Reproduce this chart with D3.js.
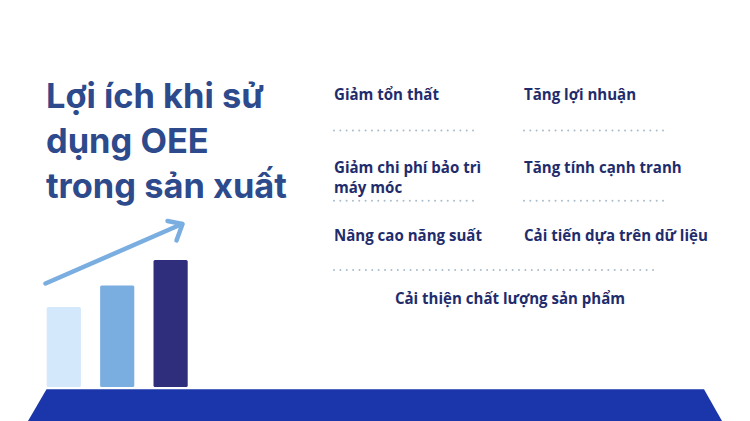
<!DOCTYPE html>
<html><head><meta charset="utf-8">
<script src="https://cdn.jsdelivr.net/npm/d3@7"></script>
<style>html,body{margin:0;padding:0;background:#fff;}svg{display:block;}</style>
</head><body>
<svg id="c" width="750" height="421"></svg>
<script>
// ---- data ----
const titleLines = ["Lợi ích khi sử", "dụng OEE", "trong sản xuất"];
const barCategories = ["Giai đoạn 1", "Giai đoạn 2", "Giai đoạn 3"];
const barValues = [63, 80, 100];
const benefitsCol1 = ["Giảm tổn thất", "Giảm chi phí bảo trì|máy móc", "Nâng cao năng suất"];
const benefitsCol2 = ["Tăng lợi nhuận", "Tăng tính cạnh tranh", "Cải tiến dựa trên dữ liệu"];
const benefitLast = ["Cải thiện chất lượng sản phẩm"];

const svg = d3.select("#c");
const W = 750, H = 421;
svg.append("rect").attr("width", W).attr("height", H).attr("fill", "#ffffff");

// ---- platform ----
svg.append("path")
  .attr("d", d3.line()([[46.5, 389.3], [704, 389.3], [722, 421], [28, 421]]) + "Z")
  .attr("fill", "#1A36AA");

// ---- bars ----
const x = d3.scaleBand().domain(barCategories).range([46.7, 187.7]).paddingInner(0.36).paddingOuter(0);
const y = d3.scaleLinear().domain([0, 100]).range([387, 260]);
const barColors = ["#D3E8FA", "#7BAEE0", "#2E2E7C"];
svg.append("g").selectAll("rect").data(barValues).join("rect")
  .attr("x", (d, i) => x(barCategories[i]))
  .attr("width", x.bandwidth())
  .attr("y", d => y(d))
  .attr("height", d => y(0) - y(d))
  .attr("rx", 1.5)
  .attr("fill", (d, i) => barColors[i]);

// ---- trend arrow ----
const arrowColor = "#7AAEE0";
const ag = svg.append("g").attr("fill", "none").attr("stroke", arrowColor)
  .attr("stroke-width", 4.5).attr("stroke-linecap", "round").attr("stroke-linejoin", "round");
ag.append("line").attr("x1", 45.5).attr("y1", 283.5).attr("x2", 182).attr("y2", 224);
ag.append("path").attr("d", d3.line()([[167.5, 221], [182.5, 224], [176.5, 240.5]]));

// ---- title ----
const titleColor = "#2C4A8C";
const tg = svg.append("g");
const titleBaselines = [108, 153, 198];
const tt = tg.selectAll("text").data(titleLines).join("text")
  .attr("x", 46).attr("y", (d, i) => titleBaselines[i])
  .attr("font-family", "Inter, 'Open Sans', sans-serif")
  .attr("font-weight", 700)
  .attr("font-size", 35)
  .attr("fill", titleColor)
  .text(d => d);
{
  const n = tt.nodes()[2];
  const w = n.getComputedTextLength();
  tt.attr("font-size", 35 * 241 / w);
}

// ---- benefits ----
const textColor = "#1F2C6C";
const font = "'Open Sans', Lato, sans-serif";
const bg = svg.append("g").attr("font-family", font).attr("font-weight", 700).attr("fill", textColor);
const rowBaselines = [100, 172.5, 240.5];
const colX = [334, 524];
function addItem(str, xx, yy, anchor) {
  const parts = str.split("|");
  parts.forEach((p, k) => {
    bg.append("text").attr("x", xx).attr("y", yy + k * 20).attr("text-anchor", anchor || "start")
      .attr("font-size", 16).text(p);
  });
}
benefitsCol1.forEach((s, i) => addItem(s, colX[0], rowBaselines[i]));
benefitsCol2.forEach((s, i) => addItem(s, colX[1], rowBaselines[i]));
addItem(benefitLast[0], 510, 304, "middle");
{
  const probe = bg.selectAll("text").filter(function () { return this.textContent === "Nâng cao năng suất"; }).node();
  const w = probe.getComputedTextLength();
  bg.selectAll("text").attr("font-size", 16 * 148 / w);
}

// ---- dotted separators ----
const dotColor = "#A9BCCB";
const seps = [[334, 473, 130.5], [524, 663, 130.5], [334, 473, 200.7], [524, 663, 200.7], [334, 653, 270]];
seps.forEach(([x1, x2, yy]) => {
  const n = Math.round((x2 - x1) / 6.35);
  const xs = d3.range(n + 1).map(k => x1 + k * (x2 - x1) / n);
  svg.append("g").selectAll("circle").data(xs).join("circle")
    .attr("cx", d => d).attr("cy", yy).attr("r", 1).attr("fill", dotColor);
});
</script>
</body></html>
